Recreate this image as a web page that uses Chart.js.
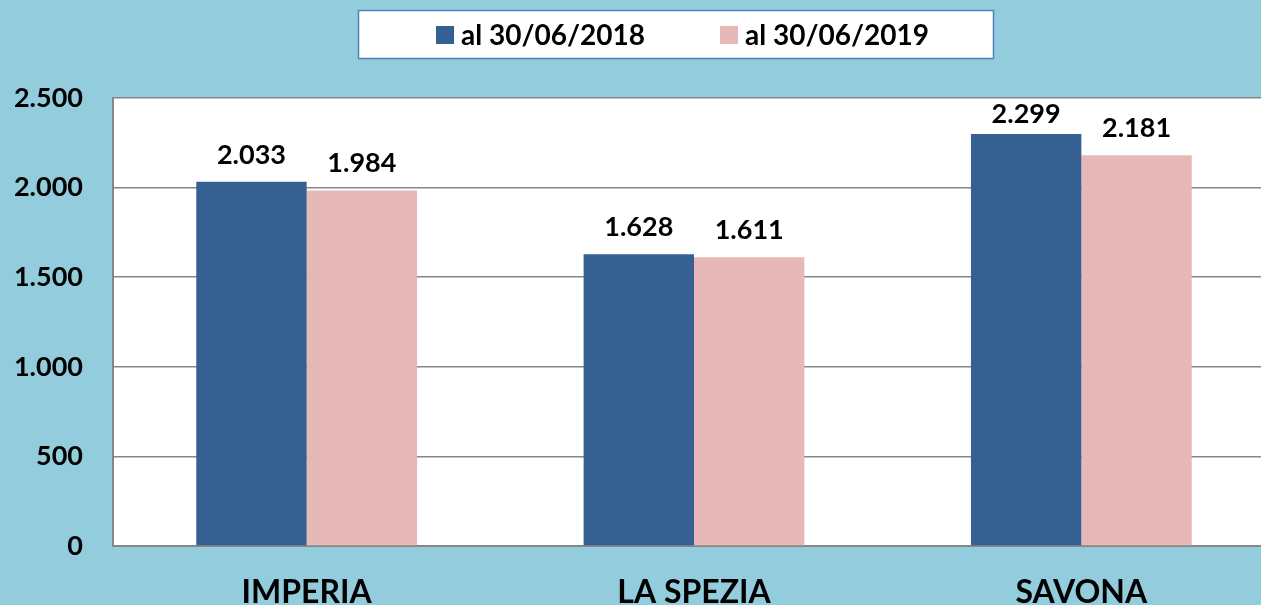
<!DOCTYPE html>
<html>
<head>
<meta charset="utf-8">
<script src="https://cdn.jsdelivr.net/npm/chart.js@4/dist/chart.umd.min.js"></script>
<style>
  html, body { margin: 0; padding: 0; overflow: hidden; background: #93CDDD; }
  #wrap { position: relative; width: 1275px; height: 605px; }
</style>
</head>
<body>
<div id="wrap"><canvas id="c"></canvas></div>
<script>
const categories = ['IMPERIA', 'LA SPEZIA', 'SAVONA'];
const seriesLabels = ['al 30/06/2018', 'al 30/06/2019'];
const values2018 = [2033, 1628, 2299];
const values2019 = [1984, 1611, 2181];
const yTickValues = [0, 500, 1000, 1500, 2000, 2500];

const COLORS = ['#376092', '#E6B9B8'];
const FONT = "Lato, 'Open Sans', sans-serif";

function fmt(n) {
  const s = String(Math.round(n));
  return s.replace(/\B(?=(\d{3})+(?!\d))/g, '.');
}

const bgPlugin = {
  id: 'bg',
  beforeDraw(chart) {
    const { ctx, chartArea } = chart;
    ctx.save();
    ctx.fillStyle = '#93CDDD';
    ctx.fillRect(0, 0, chart.width, chart.height);
    ctx.fillStyle = '#FFFFFF';
    ctx.fillRect(chartArea.left, chartArea.top, chartArea.right - chartArea.left, chartArea.bottom - chartArea.top);
    ctx.restore();
  }
};

const legendPlugin = {
  id: 'boxLegend',
  afterDraw(chart) {
    const ctx = chart.ctx;
    ctx.save();
    ctx.font = 'bold 28px ' + FONT;
    const sq = 18, gapText = 7, gapItem = 75, padL = 78, padR = 65;
    const items = chart.data.datasets.map(d => ({ label: d.label, color: d.backgroundColor, w: ctx.measureText(d.label).width }));
    let total = 0;
    items.forEach((it, i) => { total += sq + gapText + it.w + (i < items.length - 1 ? gapItem : 0); });
    const centerX = 676;
    const cy = 35;
    let x = centerX - (total + padL + padR) / 2 + padL;
    const boxL = x - padL, boxR = x + total + padR;
    ctx.fillStyle = '#FFFFFF';
    ctx.fillRect(boxL, 10, boxR - boxL, 49);
    ctx.strokeStyle = '#4F81BD';
    ctx.lineWidth = 1.5;
    ctx.strokeRect(boxL + 0.5, 10.5, boxR - boxL - 1, 48);
    ctx.textBaseline = 'middle';
    ctx.textAlign = 'left';
    items.forEach(it => {
      ctx.fillStyle = it.color;
      ctx.fillRect(x, cy - sq / 2, sq, sq);
      x += sq + gapText;
      ctx.fillStyle = '#000000';
      ctx.fillText(it.label, x, cy + 1);
      x += it.w + gapItem;
    });
    ctx.restore();
  }
};

const valueLabels = {
  id: 'valueLabels',
  afterDatasetsDraw(chart) {
    const ctx = chart.ctx;
    const top = chart.chartArea.top;
    ctx.save();
    ctx.font = 'bold 27px ' + FONT;
    ctx.fillStyle = '#000000';
    ctx.textAlign = 'center';
    ctx.textBaseline = 'alphabetic';
    chart.data.datasets.forEach((ds, di) => {
      const meta = chart.getDatasetMeta(di);
      meta.data.forEach((bar, i) => {
        const y = Math.max(bar.y - 18, top + 25);
        ctx.fillText(fmt(ds.data[i]), bar.x, y);
      });
    });
    ctx.restore();
  }
};

new Chart(document.getElementById('c'), {
  type: 'bar',
  data: {
    labels: categories,
    datasets: [
      { label: seriesLabels[0], data: values2018, backgroundColor: COLORS[0], borderWidth: 0 },
      { label: seriesLabels[1], data: values2019, backgroundColor: COLORS[1], borderWidth: 0 }
    ]
  },
  options: {
    responsive: true,
    maintainAspectRatio: false,
    animation: false,
    layout: { padding: { top: 98, left: 0, right: 0, bottom: 0 } },
    plugins: {
      legend: { display: false },
      tooltip: { enabled: false }
    },
    datasets: { bar: { categoryPercentage: 0.57, barPercentage: 1.0 } },
    scales: {
      x: {
        afterFit(scale) { scale.height = 59; },
        grid: { display: false, drawTicks: false },
        border: { display: true, color: '#868686', width: 2 },
        ticks: { color: '#000000', font: { family: FONT, size: 32, weight: 'bold' }, padding: 27, maxRotation: 0 }
      },
      y: {
        min: yTickValues[0],
        max: yTickValues[yTickValues.length - 1],
        afterBuildTicks(scale) { scale.ticks = yTickValues.map(v => ({ value: v })); },
        afterFit(scale) { scale.width = 113; },
        grid: { color: '#868686', lineWidth: 1.5, drawTicks: false },
        border: { display: true, color: '#868686', width: 2 },
        ticks: { color: '#000000', font: { family: FONT, size: 27, weight: 'bold' }, padding: 30, callback: v => fmt(v) }
      }
    }
  },
  plugins: [bgPlugin, legendPlugin, valueLabels]
});
</script>
</body>
</html>
